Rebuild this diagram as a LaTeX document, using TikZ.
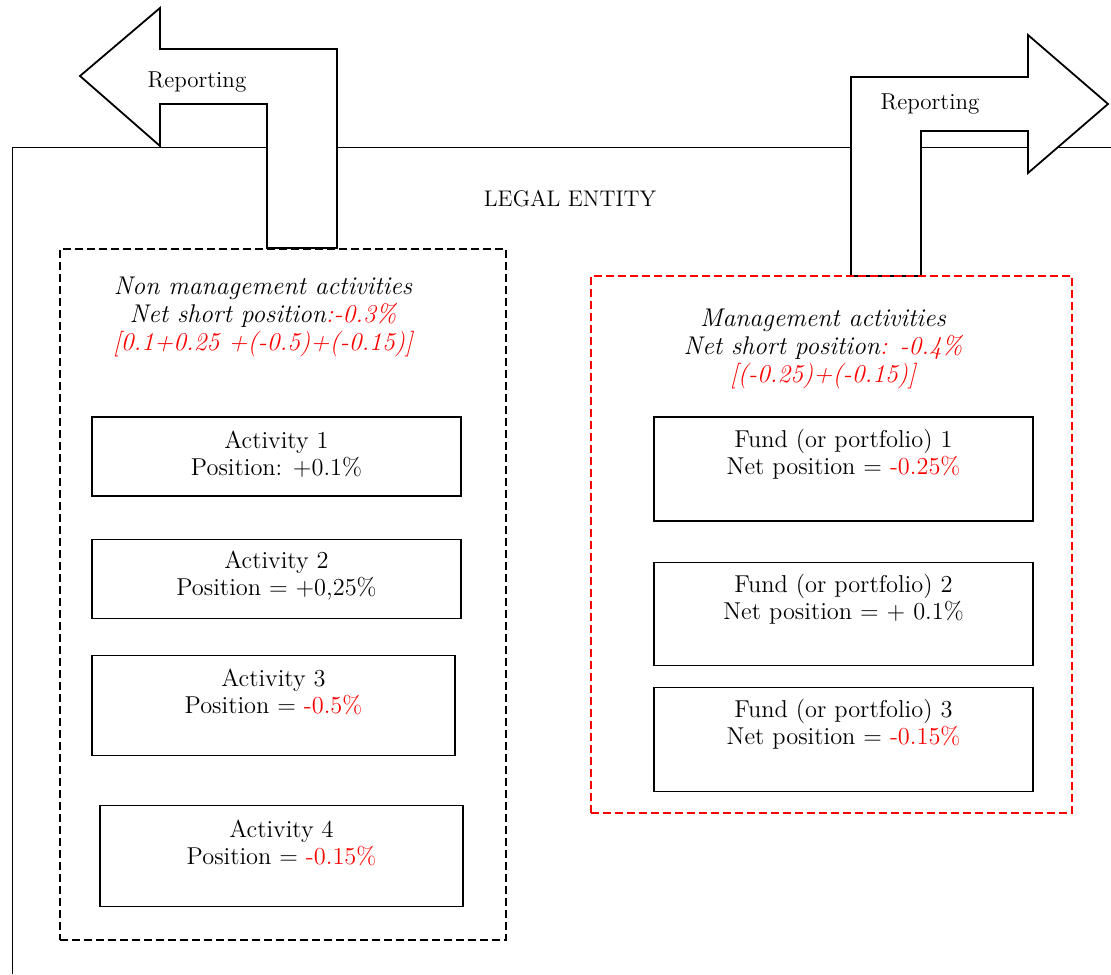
\documentclass[tikz,border=0pt]{standalone}
\usetikzlibrary{positioning}

\begin{document}
\begin{tikzpicture}[
    x=0.5pt,
    y=-0.5pt,
    font=\fontsize{11}{13.5}\selectfont,
    posbox/.style={draw, line width=0.6pt, minimum width=184.5pt, minimum height=39.5pt, inner sep=0pt},
    tallbox/.style={posbox, minimum height=50pt},
    postext/.style={align=center, inner sep=0pt, font=\fontsize{12.2}{13.5}\selectfont},
    groupbox/.style={draw, line width=1pt, dash pattern=on 4pt off 2pt, inner sep=0pt},
    heading/.style={align=center, inner sep=0pt, font=\fontsize{12.8}{14}\selectfont\itshape},
    reportarrow/.style={draw, fill=white, line width=0.9pt, line join=miter},
]

    \useasboundingbox (0,0) rectangle (1111,974);

    % legal entity frame
    \draw[line width=0.5pt] (12,974) -- (12,147) -- (1111,147);
    \node[font=\fontsize{11.3}{13.5}\selectfont] (entity) at (570,199) {LEGAL ENTITY};

    % reporting arrows
    \draw[reportarrow] (80,76) -- (160,8) -- (160,49) -- (337,49) -- (337,248)
        -- (267,248) -- (267,104) -- (160,104) -- (160,146) -- cycle;
    \node[font=\fontsize{11.5}{13.5}\selectfont] (repleft) at (197,82) {Reporting};

    \draw[reportarrow] (851,276) -- (851,77) -- (1028,77) -- (1028,35) -- (1108,104)
        -- (1028,173) -- (1028,131) -- (921,131) -- (921,276) -- cycle;
    \node[font=\fontsize{11.5}{13.5}\selectfont] (repright) at (930,104) {Reporting};

    % non management side
    \node[groupbox, minimum width=223pt, minimum height=345.5pt] (nonmgmt) at (283,594.5) {};
    \node[heading] (nonmgmthead) at (263,317)
        {Non management activities\\
         Net short position\textcolor{red}{:-0.3\%}\\
         \textcolor{red}{[0.1+0.25 +(-0.5)+(-0.15)]}};

    \node[posbox]                                   (act1) at (276.5,456.5) {};
    \node[posbox,  below=21pt of act1]              (act2) {};
    \node[tallbox, minimum width=181.5pt, below=18pt of act2, xshift=-1.5pt] (act3) {};
    \node[tallbox, minimum width=181.5pt, minimum height=50.5pt, below=24.5pt of act3, xshift=4pt] (act4) {};

    \node[postext] (act1text) at ([yshift=-18.75pt]act1.north) {Activity 1\\Position: +0.1\%};
    \node[postext] (act2text) at ([yshift=-18.75pt]act2.north) {Activity 2\\Position = +0,25\%};
    \node[postext] (act3text) at ([yshift=-18.75pt]act3.north) {Activity 3\\Position = \textcolor{red}{-0.5\%}};
    \node[postext] (act4text) at ([yshift=-18.75pt]act4.north) {Activity 4\\Position = \textcolor{red}{-0.15\%}};

    % management side
    \node[groupbox, draw=red, minimum width=240.5pt, minimum height=268.5pt] (mgmt) at (831.5,544.5) {};
    \node[heading] (mgmthead) at (823,349)
        {Management activities\\
         Net short position\textcolor{red}{: -0.4\%}\\
         \textcolor{red}{[(-0.25)+(-0.15)]}};

    \node[tallbox, minimum width=189.5pt, minimum height=52pt]        (fund1) at (843.5,469) {};
    \node[tallbox, minimum width=189.5pt, minimum height=51.5pt, below=20pt of fund1]   (fund2) {};
    \node[tallbox, minimum width=189.5pt, minimum height=52pt, below=10.5pt of fund2] (fund3) {};

    \node[postext] (fund1text) at ([yshift=-18.75pt]fund1.north) {Fund (or portfolio) 1\\Net position = \textcolor{red}{-0.25\%}};
    \node[postext] (fund2text) at ([yshift=-18.75pt]fund2.north) {Fund (or portfolio) 2\\Net position = + 0.1\%};
    \node[postext] (fund3text) at ([yshift=-18.75pt]fund3.north) {Fund (or portfolio) 3\\Net position = \textcolor{red}{-0.15\%}};

\end{tikzpicture}
\end{document}
